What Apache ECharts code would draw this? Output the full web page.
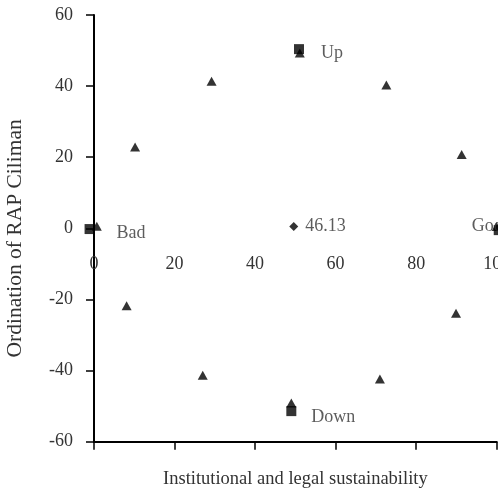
<!DOCTYPE html>
<html>
<head>
<meta charset="utf-8">
<script src="https://cdn.jsdelivr.net/npm/echarts@6/dist/echarts.min.js"></script>
<style>html,body{margin:0;padding:0;background:#fff}#c{width:498px;height:489px}</style>
</head>
<body>
<div id="c"></div>
<script>
var xTicks = [0, 20, 40, 60, 80, 100];
var yTicks = [-60, -40, -20, 0, 20, 40, 60];
var xTitle = 'Institutional and legal sustainability';
var yTitle = 'Ordination of RAP Ciliman';

var triX = [0.7, 10.2, 29.2, 51.1, 72.6, 91.3, 100, 89.9, 71.0, 49.0, 27.0, 8.1];
var triY = [0.6, 22.9, 41.4, 49.3, 40.3, 20.8, 0.5, -23.9, -42.4, -49.1, -41.3, -21.8];

var refNames = ['Bad', 'Up', 'Good', 'Down'];
var refX = [-1.1, 50.9, 100.5, 49.0];
var refY = [-0.2, 50.4, -0.5, -51.4];

var diaX = [49.6];
var diaY = [0.5];
var diaLabel = ['46.13'];

var FONT = 'Liberation Serif';
var TXT = '#333';

var labelStyles = {
  'Bad':  {distance: 22, offset: [0, 4]},
  'Up':   {distance: 17, offset: [0, 4]},
  'Good': {distance: 5, offset: [-37, -4]},
  'Down': {distance: 15, offset: [0, 6]}
};

var triData = triX.map(function (x, i) { return [x, triY[i]]; });
var refData = refX.map(function (x, i) {
  var s = labelStyles[refNames[i]];
  return {
    value: [x, refY[i]], name: refNames[i],
    label: {show: true, position: 'right', distance: s.distance, offset: s.offset,
      formatter: refNames[i], fontFamily: FONT, fontSize: 18, color: TXT}
  };
});
var diaData = diaX.map(function (x, i) {
  return {value: [x, diaY[i]],
    label: {show: true, position: 'right', distance: 7, formatter: diaLabel[i],
      fontFamily: FONT, fontSize: 18, color: TXT}};
});

var GRID_TOP = 15, GRID_BOTTOM = 47.3, H = 489;
var plotH = H - GRID_TOP - GRID_BOTTOM;
// offset of the label axis so that it sits on y = 0
var zeroOffset = -plotH * (0 - yTicks[0]) / (yTicks[yTicks.length - 1] - yTicks[0]);

var chart = echarts.init(document.getElementById('c'), null, {renderer: 'canvas'});
chart.setOption({
  animation: false,
  backgroundColor: '#fff',
  grid: {left: 94, right: 1.3, top: GRID_TOP, bottom: GRID_BOTTOM, containLabel: false, outerBoundsMode: 'none'},
  xAxis: [{
    type: 'value', min: xTicks[0], max: xTicks[xTicks.length - 1], interval: 20,
    position: 'bottom',
    axisLine: {show: true, onZero: false, lineStyle: {color: '#000', width: 2}},
    axisTick: {show: true, inside: false, length: 8, lineStyle: {color: '#000', width: 1.5}},
    axisLabel: {show: false},
    splitLine: {show: false},
    name: xTitle, nameLocation: 'middle', nameGap: 28,
    nameTextStyle: {fontFamily: FONT, fontSize: 18.5, color: TXT}
  }, {
    type: 'value', min: xTicks[0], max: xTicks[xTicks.length - 1], interval: 20,
    position: 'bottom', offset: zeroOffset,
    axisLine: {show: false, onZero: false},
    axisTick: {show: false},
    axisLabel: {show: true, margin: 27, fontFamily: FONT, fontSize: 18, color: TXT},
    splitLine: {show: false}
  }],
  yAxis: {
    type: 'value', min: yTicks[0], max: yTicks[yTicks.length - 1], interval: 20,
    axisLine: {show: true, onZero: false, lineStyle: {color: '#000', width: 2}},
    axisTick: {show: true, inside: false, length: 8, lineStyle: {color: '#000', width: 1.5}},
    axisLabel: {margin: 21, fontFamily: FONT, fontSize: 18, color: TXT},
    splitLine: {show: false},
    name: yTitle, nameLocation: 'middle', nameGap: 68,
    nameTextStyle: {fontFamily: FONT, fontSize: 21.5, color: TXT, padding: [0, 20, 0, 0]}
  },
  series: [{
    type: 'scatter', xAxisIndex: 0, clip: false,
    symbol: 'triangle', symbolSize: [10, 9],
    itemStyle: {color: '#000'},
    data: triData
  }, {
    type: 'scatter', xAxisIndex: 0, clip: false,
    symbol: 'rect', symbolSize: 10,
    itemStyle: {color: '#000'},
    data: refData
  }, {
    type: 'scatter', xAxisIndex: 0, clip: false,
    symbol: 'diamond', symbolSize: 9,
    itemStyle: {color: '#000'},
    data: diaData
  }]
});
</script>
</body>
</html>
